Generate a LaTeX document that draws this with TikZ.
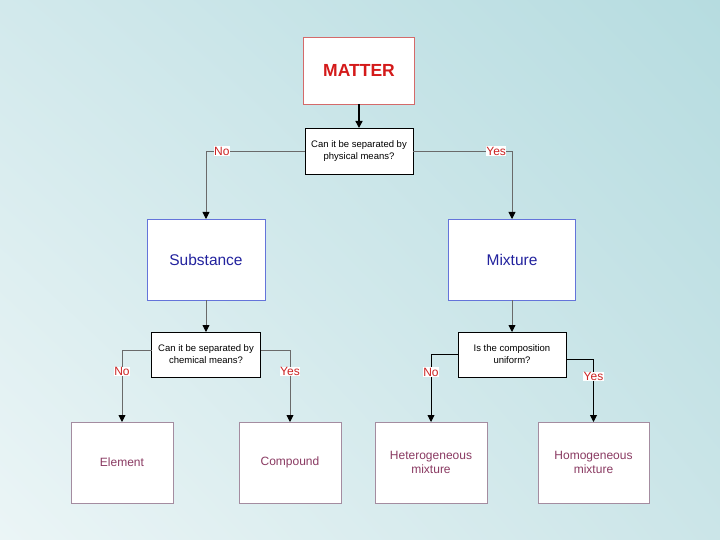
\documentclass[tikz,border=0pt]{standalone}
\usepackage{fontspec}
\setmainfont{Liberation Sans}
\usetikzlibrary{arrows.meta,shadings}
\definecolor{bgUL}{HTML}{D2E9EC}
\definecolor{bgUR}{HTML}{B6DCE0}
\definecolor{bgLL}{HTML}{EBF5F6}
\definecolor{bgLR}{HTML}{CBE5E8}
\definecolor{matred}{HTML}{D41A1A}
\definecolor{matborder}{HTML}{D46A6A}
\definecolor{subblue}{HTML}{22229E}
\definecolor{subborder}{HTML}{6474DA}
\definecolor{leafpurple}{HTML}{8A3A62}
\definecolor{leafborder}{HTML}{A48CA0}
\definecolor{lblred}{HTML}{CC2222}
\definecolor{linegray}{HTML}{6A6A6A}
\tikzset{
  box/.style={draw, fill=white, inner sep=0pt, outer sep=0pt, align=center},
  matterbox/.style={box, draw=matborder, line width=0.9pt, text=matred, font=\fontsize{17.5}{20}\selectfont\bfseries},
  qbox/.style={box, draw=black, line width=0.8pt, text=black, font=\fontsize{9.5}{12}\selectfont},
  midbox/.style={box, draw=subborder, line width=0.9pt, text=subblue, font=\fontsize{15.5}{18}\selectfont},
  leafbox/.style={box, draw=leafborder, line width=0.7pt, text=leafpurple, font=\fontsize{12}{14}\selectfont},
  conn/.style={draw=linegray, line width=0.9pt, -{Triangle[length=7pt,width=7pt,black]}},
  yn/.style={fill=white, text=lblred, inner sep=0.5pt, font=\fontsize{12}{14}\selectfont}
}
\begin{document}
\begin{tikzpicture}[x=1pt,y=-1pt]
\useasboundingbox (0,0) rectangle (720,540);
\shade[upper left=bgUL, upper right=bgUR, lower left=bgLL, lower right=bgLR] (0,0) rectangle (720,540);

\node[matterbox, minimum width=111pt, minimum height=67pt] (matter) at (359,70.5) {MATTER};
\node[qbox, minimum width=108pt, minimum height=46pt] (q1) at (359,151) {Can it be separated by\\physical means?};
\node[midbox, minimum width=118pt, minimum height=81pt] (sub) at (206,259.5) {Substance};
\node[midbox, minimum width=127pt, minimum height=81pt] (mix) at (512,259.5) {Mixture};
\node[qbox, minimum width=109pt, minimum height=45pt] (q2) at (206,354.5) {Can it be separated by\\chemical means?};
\node[qbox, minimum width=108pt, minimum height=45pt] (q3) at (512,354.5) {Is the composition\\uniform?};
\node[leafbox, minimum width=102pt, minimum height=81pt] (elem) at (122,462.5) {Element};
\node[leafbox, minimum width=102pt, minimum height=81pt] (comp) at (290,462.5) {Compound};
\node[leafbox, minimum width=112pt, minimum height=81pt] (het) at (431,462.5) {Heterogeneous\\mixture};
\node[leafbox, minimum width=111pt, minimum height=81pt] (hom) at (593.5,462.5) {Homogeneous\\mixture};

\draw[draw=black, line width=1.4pt, -{Triangle[length=7pt,width=7pt,black]}] (matter.south) -- (q1.north);
\draw[conn] (q1.west) -| node[yn, pos=0.42] (n1) {No} (sub.north);
\draw[conn] (q1.east) -| node[yn, pos=0.42] (y1) {Yes} (mix.north);
\draw[conn] (sub.south) -- (q2.north);
\draw[conn] (mix.south) -- (q3.north);
\draw[conn] ([yshift=4.5pt]q2.west) -| node[yn, pos=0.65] (n2) {No} (elem.north);
\draw[conn] ([yshift=4.5pt]q2.east) -| node[yn, pos=0.65] (y2) {Yes} (comp.north);
\draw[conn, draw=black] (q3.west) -| node[yn, pos=0.63] (n3) {No} (het.north);
\draw[conn, draw=black] ([yshift=-4.5pt]q3.east) -| node[yn, pos=0.64] (y3) {Yes} (hom.north);
\end{tikzpicture}
\end{document}
